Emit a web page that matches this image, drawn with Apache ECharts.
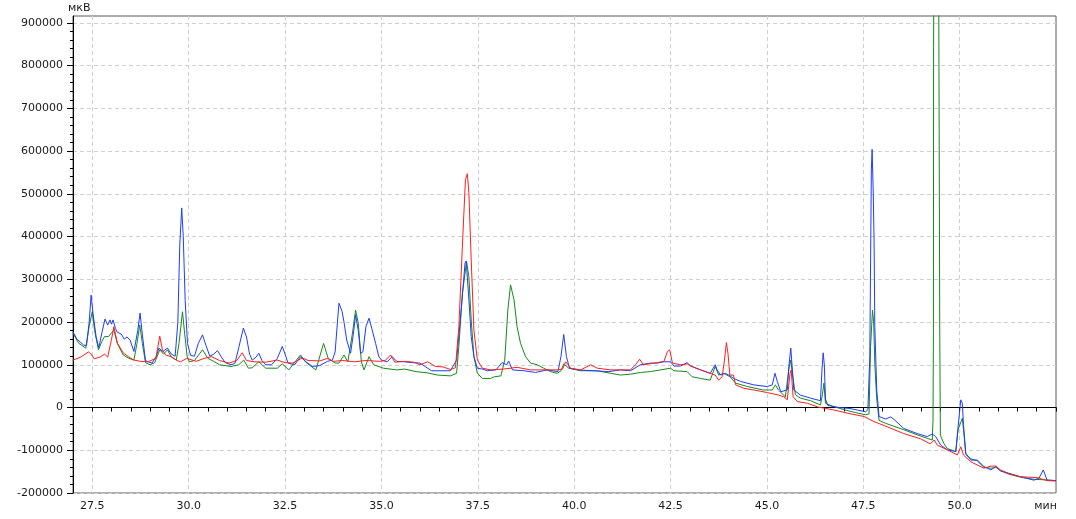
<!DOCTYPE html>
<html><head><meta charset="utf-8">
<script src="https://cdn.jsdelivr.net/npm/echarts@6/dist/echarts.min.js"></script>
<style>html,body{margin:0;padding:0;background:#fff}#c{width:1076px;height:519px}</style>
</head><body><div id="c"></div>
<script>
// Chromatogram traces: [time (min), signal (µV)]
const blueTrace = [
[27.00,177000],[27.10,160000],[27.28,146000],[27.35,145000],[27.42,200000],[27.47,263000],[27.52,220000],[27.60,165000],[27.67,140000],[27.75,175000],[27.83,207000],[27.90,193000],[27.96,205000],[28.00,195000],[28.04,205000],[28.10,185000],[28.15,176000],[28.25,172000],[28.33,160000],[28.40,165000],[28.48,158000],[28.58,131000],[28.68,180000],[28.74,221000],[28.80,170000],[28.88,110000],[28.95,107000],[29.05,104000],[29.15,118000],[29.23,139000],[29.33,131000],[29.45,139000],[29.55,125000],[29.65,120000],[29.72,200000],[29.77,380000],[29.82,467000],[29.86,400000],[29.91,250000],[29.97,150000],[30.05,122000],[30.15,120000],[30.25,150000],[30.36,170000],[30.45,145000],[30.55,120000],[30.65,125000],[30.75,133000],[30.85,118000],[30.95,105000],[31.10,100000],[31.20,103000],[31.30,140000],[31.42,186000],[31.50,165000],[31.58,125000],[31.65,111000],[31.75,118000],[31.82,127000],[31.90,110000],[32.00,100000],[32.15,100000],[32.30,115000],[32.43,143000],[32.50,125000],[32.58,104000],[32.75,100000],[32.90,119000],[33.00,110000],[33.21,96000],[33.40,98000],[33.60,108000],[33.73,111000],[33.80,130000],[33.86,200000],[33.90,244000],[33.98,225000],[34.03,200000],[34.10,158000],[34.20,127000],[34.27,170000],[34.33,217000],[34.40,180000],[34.46,127000],[34.52,130000],[34.60,190000],[34.68,209000],[34.75,185000],[34.85,150000],[34.93,120000],[35.00,111000],[35.15,107000],[35.28,119000],[35.40,108000],[35.60,107000],[35.80,105000],[36.00,104000],[36.15,95000],[36.30,86000],[36.79,86000],[36.95,111000],[37.07,228000],[37.17,338000],[37.20,343000],[37.27,252000],[37.33,166000],[37.40,119000],[37.49,92000],[37.62,90000],[37.75,86000],[37.97,88000],[38.13,105000],[38.25,100000],[38.30,109000],[38.40,88000],[38.70,86000],[39.00,82000],[39.30,88000],[39.58,84000],[39.66,120000],[39.73,171000],[39.80,119000],[39.88,92000],[40.10,88000],[40.50,86000],[40.90,84000],[41.20,88000],[41.46,86000],[41.72,100000],[41.98,104000],[42.16,104000],[42.33,107000],[42.50,107000],[42.59,97000],[42.76,97000],[42.93,105000],[43.02,97000],[43.28,88000],[43.53,80000],[43.66,100000],[43.71,88000],[43.80,76000],[43.92,80000],[44.01,76000],[44.14,68000],[44.32,61000],[44.66,53000],[45.01,49000],[45.14,53000],[45.21,80000],[45.27,61000],[45.36,37000],[45.53,41000],[45.57,96000],[45.62,139000],[45.66,90000],[45.70,41000],[45.87,29000],[46.13,22000],[46.39,16000],[46.43,90000],[46.46,128000],[46.49,100000],[46.52,20000],[46.58,5000],[46.87,0],[47.13,-2000],[47.35,-6000],[47.56,-10000],[47.62,-5000],[47.67,119000],[47.71,556000],[47.73,604000],[47.76,500000],[47.78,392000],[47.80,189000],[47.85,41000],[47.91,-21000],[48.08,-27000],[48.21,-22000],[48.30,-28000],[48.55,-49000],[48.90,-61000],[49.16,-68000],[49.29,-62000],[49.38,-68000],[49.51,-88000],[49.68,-99000],[49.90,-103000],[49.96,-45000],[50.03,18000],[50.07,10000],[50.10,-40000],[50.16,-107000],[50.29,-123000],[50.46,-123000],[50.63,-138000],[50.81,-146000],[50.94,-138000],[51.06,-148000],[51.28,-154000],[51.58,-162000],[51.93,-170000],[52.06,-165000],[52.17,-146000],[52.27,-170000],[52.50,-171000]
];
const greenTrace = [
[27.00,174000],[27.15,150000],[27.33,139000],[27.42,190000],[27.50,224000],[27.56,180000],[27.66,135000],[27.75,155000],[27.82,166000],[27.92,166000],[28.06,181000],[28.15,150000],[28.30,123000],[28.45,115000],[28.58,111000],[28.66,150000],[28.73,193000],[28.80,150000],[28.88,105000],[29.00,100000],[29.12,105000],[29.25,135000],[29.35,125000],[29.45,135000],[29.55,118000],[29.68,111000],[29.75,150000],[29.84,224000],[29.90,170000],[29.96,120000],[30.02,107000],[30.15,110000],[30.36,135000],[30.50,115000],[30.65,108000],[30.80,100000],[31.10,96000],[31.30,100000],[31.43,111000],[31.55,92000],[31.65,93000],[31.82,107000],[32.00,92000],[32.30,92000],[32.43,102000],[32.60,88000],[32.90,123000],[33.05,105000],[33.30,88000],[33.50,150000],[33.62,115000],[33.80,104000],[33.90,104000],[34.03,123000],[34.13,107000],[34.25,174000],[34.33,228000],[34.40,198000],[34.48,107000],[34.55,88000],[34.68,119000],[34.80,100000],[35.05,92000],[35.40,88000],[35.60,90000],[35.90,84000],[36.20,81000],[36.45,76000],[36.79,74000],[36.95,80000],[37.01,143000],[37.10,267000],[37.21,341000],[37.27,306000],[37.33,205000],[37.40,119000],[37.49,80000],[37.62,68000],[37.83,68000],[37.93,72000],[38.10,74000],[38.20,111000],[38.28,228000],[38.35,287000],[38.44,252000],[38.52,189000],[38.61,150000],[38.74,119000],[38.87,104000],[39.04,100000],[39.21,92000],[39.39,84000],[39.56,80000],[39.66,86000],[39.73,102000],[39.86,92000],[40.17,86000],[40.60,86000],[40.95,80000],[41.20,76000],[41.46,78000],[41.72,82000],[41.98,84000],[42.50,92000],[42.59,86000],[42.93,84000],[43.06,72000],[43.28,68000],[43.53,64000],[43.66,96000],[43.75,76000],[43.88,80000],[44.04,72000],[44.19,57000],[44.50,49000],[44.90,41000],[45.14,41000],[45.22,53000],[45.30,41000],[45.48,25000],[45.57,90000],[45.62,111000],[45.66,80000],[45.74,30000],[45.87,22000],[46.13,16000],[46.39,6000],[46.44,30000],[46.48,57000],[46.52,10000],[46.70,3000],[47.00,-5000],[47.30,-12000],[47.56,-17000],[47.65,-15000],[47.69,143000],[47.74,228000],[47.77,200000],[47.80,100000],[47.85,20000],[47.91,-30000],[48.08,-37000],[48.55,-52000],[48.90,-64000],[49.16,-72000],[49.29,-76000],[49.31,-30000],[49.32,174000],[49.325,845000],[49.36,1800000],[49.43,1800000],[49.485,174000],[49.50,-65000],[49.59,-84000],[49.68,-96000],[49.90,-103000],[49.96,-52000],[50.07,-25000],[50.12,-70000],[50.16,-110000],[50.29,-120000],[50.46,-125000],[50.63,-140000],[50.81,-142000],[50.94,-140000],[51.06,-148000],[51.28,-156000],[51.58,-163000],[51.93,-168000],[52.17,-169000],[52.50,-171000]
];
const redTrace = [
[27.00,111000],[27.20,118000],[27.40,130000],[27.47,125000],[27.55,114000],[27.70,118000],[27.82,125000],[27.90,118000],[28.00,160000],[28.06,189000],[28.15,151000],[28.30,128000],[28.45,118000],[28.58,111000],[28.75,108000],[28.95,107000],[29.15,115000],[29.25,167000],[29.32,135000],[29.40,123000],[29.55,119000],[29.70,110000],[29.79,107000],[29.95,115000],[30.20,108000],[30.40,115000],[30.60,119000],[30.80,110000],[31.05,104000],[31.25,110000],[31.39,128000],[31.50,110000],[31.70,107000],[32.00,106000],[32.30,111000],[32.50,105000],[32.70,104000],[32.95,116000],[33.10,110000],[33.40,109000],[33.60,115000],[33.75,108000],[34.00,110000],[34.30,107000],[34.60,110000],[34.95,108000],[35.10,110000],[35.24,123000],[35.35,106000],[35.60,108000],[35.85,106000],[36.00,100000],[36.20,107000],[36.40,96000],[36.60,95000],[36.79,89000],[36.92,93000],[37.01,189000],[37.10,376000],[37.18,533000],[37.23,547000],[37.27,501000],[37.33,345000],[37.40,181000],[37.49,111000],[37.62,92000],[37.83,88000],[38.17,90000],[38.52,94000],[38.87,88000],[39.21,88000],[39.56,88000],[39.70,90000],[39.78,107000],[39.91,92000],[40.17,88000],[40.43,100000],[40.60,92000],[40.95,88000],[41.20,88000],[41.46,88000],[41.59,100000],[41.70,113000],[41.80,100000],[41.94,102000],[42.10,104000],[42.33,108000],[42.42,131000],[42.48,135000],[42.55,104000],[42.75,100000],[42.93,102000],[43.06,96000],[43.28,88000],[43.53,80000],[43.66,76000],[43.75,64000],[43.84,72000],[43.90,111000],[43.95,152000],[43.99,127000],[44.04,76000],[44.13,76000],[44.19,53000],[44.40,45000],[44.66,41000],[45.01,35000],[45.31,29000],[45.44,25000],[45.53,18000],[45.60,80000],[45.63,88000],[45.68,25000],[45.79,14000],[46.05,10000],[46.33,1000],[46.70,-5000],[47.13,-14000],[47.52,-21000],[47.78,-33000],[48.12,-45000],[48.55,-61000],[48.98,-73000],[49.24,-85000],[49.34,-76000],[49.42,-88000],[49.68,-99000],[49.94,-111000],[50.03,-92000],[50.10,-111000],[50.29,-127000],[50.63,-142000],[50.81,-137000],[50.94,-137000],[51.06,-146000],[51.28,-155000],[51.58,-162000],[52.01,-164000],[52.27,-171000],[52.50,-172000]
];
const xMajorTicks = [27.5,30.0,32.5,35.0,37.5,40.0,42.5,45.0,47.5,50.0];
const xLabelTicks = [27.5,30.0,32.5,35.0,37.5,40.0,42.5,45.0,47.5,50.0,52.5];
const yMajorTicks = [-200000,-100000,0,100000,200000,300000,400000,500000,600000,700000,800000,900000];
const yMinorTicks = [];
for (let v = -200000; v <= 900000; v += 20000) yMinorTicks.push(v);

const font = {fontFamily:'DejaVu Sans', fontSize:11, color:'#1a1a1a'};
const chart = echarts.init(document.getElementById('c'), null, {renderer:'canvas'});
chart.setOption({
  animation:false,
  backgroundColor:'#fff',
  grid:{left:73, right:20, top:16, bottom:26, show:true, borderColor:'#5a5a5a', borderWidth:1, backgroundColor:'#fff'},
  xAxis:[
    {type:'value', min:27.0, max:52.5, interval:0.5,
     axisLine:{lineStyle:{color:'#000', width:1}},
     axisTick:{length:4, lineStyle:{color:'#000'}},
     axisLabel:{show:false},
     splitLine:{show:false}},
    {type:'value', min:27.0, max:52.5, position:'bottom', offset:0,
     axisLine:{show:false},
     axisTick:{show:false, customValues:xMajorTicks},
     axisLabel:Object.assign({customValues:xLabelTicks, margin:8,
        formatter:function(v){ return Math.abs(v-52.5)<1e-6 ? '{u|мин}' : v.toFixed(1); },
        rich:{u:Object.assign({padding:[0,21,0,0]}, font)}}, font),
     splitLine:{show:true, lineStyle:{color:'#cfcfcf', type:[4,3], width:1}}}
  ],
  yAxis:[
    {type:'value', min:-200000, max:916000,
     axisLine:{show:true, lineStyle:{color:'#000', width:1}},
     axisTick:{show:true, length:6, customValues:yMajorTicks, lineStyle:{color:'#000'}},
     axisLabel:Object.assign({customValues:yMajorTicks, margin:10, formatter:function(v){return String(v);}}, font),
     splitLine:{show:true, lineStyle:{color:'#cfcfcf', type:[4,3], width:1}}},
    {type:'value', min:-200000, max:916000, position:'left', offset:0,
     axisLine:{show:false},
     axisTick:{show:true, length:3, customValues:yMinorTicks, lineStyle:{color:'#000'}},
     axisLabel:{show:false},
     splitLine:{show:false}}
  ],
  graphic:[{type:'text', left:68, top:3, style:{text:'мкВ', font:'11px "DejaVu Sans"', fill:'#1a1a1a'}}],
  series:[
    {name:'green', type:'line', data:greenTrace, showSymbol:false, symbol:'none', lineStyle:{color:'#14891a', width:1}, itemStyle:{color:'#14891a'}, z:2},
    {name:'blue', type:'line', data:blueTrace, showSymbol:false, symbol:'none', lineStyle:{color:'#1e3cff', width:1}, itemStyle:{color:'#1e3cff'}, z:3},
    {name:'red', type:'line', data:redTrace, showSymbol:false, symbol:'none', lineStyle:{color:'#ff1e1e', width:1}, itemStyle:{color:'#ff1e1e'}, z:4}
  ]
});
</script></body></html>
